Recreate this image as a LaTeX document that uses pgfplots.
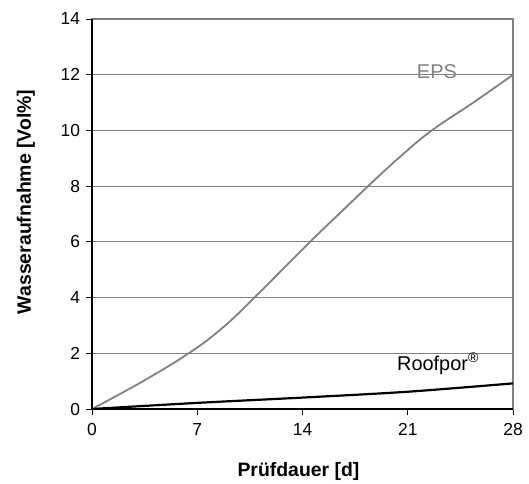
\documentclass[border=0pt]{standalone}
\usepackage{fontspec}
\setmainfont{Liberation Sans}
\usepackage{pgfplots}
\pgfplotsset{compat=1.18}
\definecolor{epsgray}{HTML}{808080}
\begin{document}
\begin{tikzpicture}[x=1bp,y=1bp]
\begin{axis}[
  at={(0,0)}, anchor=south west,
  scale only axis, width=421bp, height=390bp,
  xmin=0, xmax=28, ymin=0, ymax=14,
  xtick={0,7,14,21,28}, ytick={0,2,...,14},
  xtick pos=bottom, ytick pos=left,
  tick align=outside, major tick length=5.5bp,
  tick style={black, line width=0.8bp},
  ymajorgrids, grid style={epsgray, line width=0.9bp},
  axis line style={epsgray, line width=1.6bp},
  /pgf/number format/assume math mode=true,
  ticklabel style={font=\fontsize{17.5}{19}\selectfont},
  yticklabel style={xshift=-3bp},
  xticklabel style={yshift=-5bp},
  xlabel={\bfseries Prüfdauer [d]},
  ylabel={\bfseries Wasseraufnahme [Vol\%]},
  label style={font=\fontsize{19.5}{22}\selectfont},
  xlabel style={at={(axis description cs:0.4905,-0.159)}, anchor=center},
  ylabel style={at={(axis description cs:-0.157,0.531)}, anchor=center},
  clip=false,
]
\addplot[epsgray, line width=1.8bp, smooth, tension=0.7] coordinates {
  (0,0) (3.33,0.98) (6.43,2) (8.65,2.9) (10.8,4) (14.5,6) (16.7,7.14)
  (18.36,8) (20.5,9.06) (22.6,10) (25.36,11.0) (28,12)
};
\addplot[black, line width=2.2bp, smooth, tension=0.5] coordinates {
  (0,0) (7,0.22) (14,0.41) (21,0.62) (28,0.92)
};
\draw[black, line width=1.4bp] (rel axis cs:0,1) -- (rel axis cs:0,0) -- (rel axis cs:1,0);
\node[anchor=base west, text=epsgray, inner sep=0pt, font=\fontsize{20}{22}\selectfont] at (axis cs:21.6,11.88) {EPS};
\node[anchor=base west, inner sep=0pt, font=\fontsize{20}{22}\selectfont] at (axis cs:20.28,1.40) {Roofpor\textsuperscript{®}};
\end{axis}
\path[use as bounding box] (-92,-74) rectangle (437,409);
\end{tikzpicture}
\end{document}
